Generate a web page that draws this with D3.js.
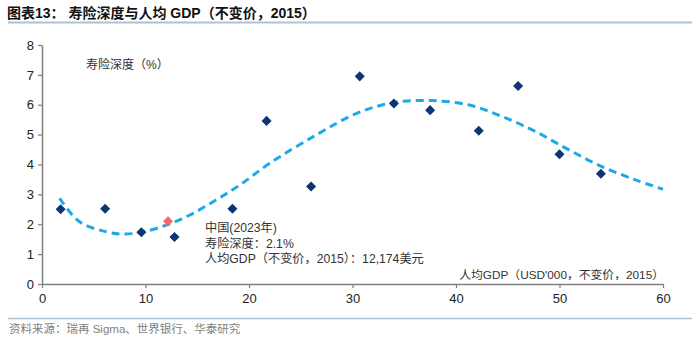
<!DOCTYPE html>
<html>
<head>
<meta charset="utf-8">
<script src="https://cdn.jsdelivr.net/npm/d3@7"></script>
<style>
  body { margin: 0; background: #fff; }
  svg { display: block; font-family: "Liberation Sans", Arial, "Noto Sans CJK SC", sans-serif; }
</style>
</head>
<body>
<svg id="chart" width="700" height="342"></svg>
<script>
// GDP per capita (USD'000, constant 2015) vs life insurance penetration (%)
const gdpValues = [1.8, 6.1, 9.6, 12.8, 18.4, 21.7, 26.0, 30.7, 34.0, 37.5, 42.2, 46.0, 50.0, 54.0];
const depthValues = [2.50, 2.52, 1.73, 1.57, 2.52, 5.46, 3.26, 6.95, 6.04, 5.82, 5.13, 6.63, 4.34, 3.69];

// China 2023
const chinaGdp = 12.174;
const chinaDepth = 2.1;

// fitted trend
const trendX = [1.7, 3.6, 6.2, 8.0, 9.8, 12.0, 14.3, 16.8, 19.1, 22.0, 26.5, 30.4, 33.9, 37.5, 41.3, 44.5, 47.7, 50.9, 54.1, 57.4, 60];
const trendY = [2.87, 2.09, 1.75, 1.67, 1.75, 1.97, 2.31, 2.81, 3.31, 4.04, 4.99, 5.71, 6.07, 6.14, 5.99, 5.6, 5.1, 4.49, 3.93, 3.48, 3.17];

const xTicks = [0, 10, 20, 30, 40, 50, 60];
const yTicks = [0, 1, 2, 3, 4, 5, 6, 7, 8];

const svg = d3.select("#chart");
const margin = { top: 45, right: 37, bottom: 58, left: 42 };
const width = 700 - margin.left - margin.right;
const height = 342 - margin.top - margin.bottom;

// title and rules
svg.append("text")
  .attr("x", 7).attr("y", 18)
  .attr("font-size", 14).attr("font-weight", "bold").attr("fill", "#111")
  .text("图表13：  寿险深度与人均 GDP（不变价，2015）");
svg.append("line")
  .attr("x1", 8).attr("x2", 692).attr("y1", 22.5).attr("y2", 22.5)
  .attr("stroke", "#aec2d6").attr("stroke-width", 2);
svg.append("line")
  .attr("x1", 8).attr("x2", 692).attr("y1", 318.5).attr("y2", 318.5)
  .attr("stroke", "#aec2d6").attr("stroke-width", 1.5);
svg.append("text")
  .attr("x", 9).attr("y", 333)
  .attr("font-size", 11.5).attr("fill", "#7f7f7f")
  .text("资料来源：瑞再 Sigma、世界银行、华泰研究");

const g = svg.append("g").attr("transform", `translate(${margin.left},${margin.top})`);

const x = d3.scaleLinear().domain([0, 60]).range([0, width]);
const y = d3.scaleLinear().domain([0, 8]).range([height, 0]);

const xAxis = g.append("g")
  .attr("transform", `translate(0,${height})`)
  .call(d3.axisBottom(x).tickValues(xTicks).tickSize(4).tickSizeOuter(0));
const yAxis = g.append("g")
  .call(d3.axisLeft(y).tickValues(yTicks).tickSize(4).tickSizeOuter(0));

[xAxis, yAxis].forEach(a => {
  a.select(".domain").attr("stroke", "#7f7f7f").attr("stroke-width", 1.5);
  a.selectAll(".tick line").attr("stroke", "#7f7f7f").attr("stroke-width", 1.2);
  a.selectAll(".tick text").attr("font-size", 13).attr("fill", "#222")
    .attr("font-family", "'Liberation Sans', Arial, sans-serif");
});
xAxis.selectAll(".tick text").attr("dy", "0.9em");
yAxis.selectAll(".tick text").attr("x", -8);

// trend curve
const trend = d3.line()
  .x((d, i) => x(trendX[i]))
  .y(d => y(d))
  .curve(d3.curveCatmullRom);
g.append("path")
  .attr("d", trend(trendY))
  .attr("fill", "none")
  .attr("stroke", "#1fa8e6")
  .attr("stroke-width", 3)
  .attr("stroke-dasharray", "8,5");

// country points
const diamond = d3.symbol().type(d3.symbolDiamond2).size(64);
g.selectAll("path.pt")
  .data(gdpValues)
  .join("path")
  .attr("class", "pt")
  .attr("d", diamond)
  .attr("transform", (d, i) => `translate(${x(d)},${y(depthValues[i])})`)
  .attr("fill", "#0d3575");

g.append("path")
  .attr("d", diamond)
  .attr("transform", `translate(${x(chinaGdp)},${y(chinaDepth)})`)
  .attr("fill", "#f46a6a");

// labels
g.append("text")
  .attr("x", 44).attr("y", 24)
  .attr("font-size", 12).attr("fill", "#333")
  .text("寿险深度（%）");

const note = g.append("text")
  .attr("font-size", 12.2).attr("fill", "#333");
["中国(2023年)",
 `寿险深度：${chinaDepth}%`,
 `人均GDP（不变价，2015）：${d3.format(",")(chinaGdp * 1000)}美元`]
  .forEach((t, i) => note.append("tspan").attr("x", 163).attr("y", 187 + i * 15.5).text(t));

g.append("text")
  .attr("x", width + 1).attr("y", height - 5)
  .attr("text-anchor", "end")
  .attr("font-size", 11.8).attr("fill", "#333")
  .text("人均GDP（USD'000，不变价，2015）");
</script>
</body>
</html>
